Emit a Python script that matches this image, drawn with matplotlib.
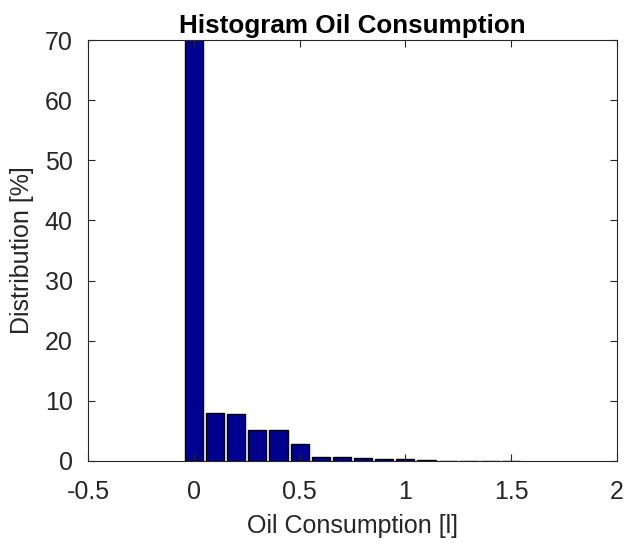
import matplotlib
matplotlib.use("Agg")
import matplotlib.pyplot as plt
import numpy as np

plt.rcParams['font.family'] = ['Liberation Sans', 'DejaVu Sans']

bin_centers = [0.0, 0.1, 0.2, 0.3, 0.4, 0.5, 0.6, 0.7, 0.8, 0.9, 1.0, 1.1, 1.2, 1.3, 1.4, 1.5]
distribution = [70.5, 7.9, 7.85, 5.1, 5.1, 2.8, 0.7, 0.65, 0.45, 0.3, 0.25, 0.12, 0.08, 0.06, 0.05, 0.04]
xticks = [-0.5, 0, 0.5, 1, 1.5, 2]
xtick_labels = ['-0.5', '0', '0.5', '1', '1.5', '2']
yticks = [0, 10, 20, 30, 40, 50, 60, 70]

fig = plt.figure(figsize=(6.26, 5.43), dpi=100)
ax = fig.add_axes([88/626, 1 - 461/543, (617-88)/626, (461-40)/543])
ax.bar(bin_centers, distribution, width=0.086, color='#000090', edgecolor='black', linewidth=1.0)
ax.set_xlim(-0.5, 2)
ax.set_ylim(0, 70)
ax.set_xticks(xticks)
ax.set_xticklabels(xtick_labels)
ax.set_yticks(yticks)
ax.tick_params(direction='in', top=True, right=True, labelsize=18, length=5, width=0.8, colors='#262626')
ax.tick_params(axis='x', pad=14)
ax.tick_params(axis='y', pad=11)
for s in ax.spines.values():
    s.set_linewidth(0.8)
    s.set_color('#262626')
ax.set_title('Histogram Oil Consumption', fontsize=18.7, fontweight='bold', pad=5)
ax.set_xlabel('Oil Consumption [l]', fontsize=18, color='#262626', labelpad=7)
ax.set_ylabel('Distribution [%]', fontsize=18, color='#262626', labelpad=8)
fig.savefig('out.png', dpi=100)
